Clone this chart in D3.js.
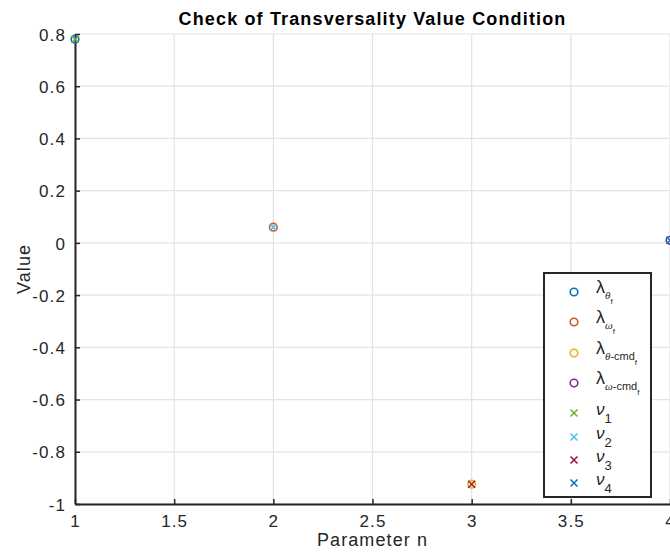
<!DOCTYPE html>
<html>
<head>
<meta charset="utf-8">
<script src="https://cdn.jsdelivr.net/npm/d3@7"></script>
<style>
  html, body { margin: 0; padding: 0; background: #fff; overflow: hidden; }
  svg { display: block; }
  text { font-family: "Liberation Sans", Arial, Helvetica, sans-serif; fill: #262626; }
</style>
</head>
<body>
<svg id="chart" width="670" height="552"></svg>
<script>
// Parameter values along the x axis
const paramN = [1, 2, 3, 4];
// Lagrange multiplier end values (one per parameter n)
const lambdaValues = [0.78, 0.06, -0.924, 0.01];
// Constraint multiplier end values (one per parameter n)
const nuValues = [0.78, 0.06, -0.924, 0.01];

const xTicks = [1, 1.5, 2, 2.5, 3, 3.5, 4];
const yTicks = [-1, -0.8, -0.6, -0.4, -0.2, 0, 0.2, 0.4, 0.6, 0.8];

const lambdaColors = ["#0072BD", "#D95319", "#EDB120", "#7E2F8E"];
const nuColors = ["#77AC30", "#4DBEEE", "#A2142F", "#0072BD"];

// legend labels: [main symbol, subscript, sub-subscript]
const lambdaLabels = [["λ", "θ", "f"], ["λ", "ω", "f"], ["λ", "θ-cmd", "f"], ["λ", "ω-cmd", "f"]];
const nuLabels = [["ν", "1"], ["ν", "2"], ["ν", "3"], ["ν", "4"]];

const svg = d3.select("#chart");
const plotLeft = 75, plotRight = 670, plotTop = 34, plotBottom = 504;

const x = d3.scaleLinear().domain([1, 4]).range([plotLeft, plotRight]);
const y = d3.scaleLinear().domain([-1, 0.8]).range([plotBottom, plotTop]);

// grid
const grid = svg.append("g");
grid.selectAll("line.gx").data(xTicks).join("line").attr("class", "gx")
  .attr("x1", d => x(d)).attr("x2", d => x(d))
  .attr("y1", plotTop).attr("y2", plotBottom)
  .attr("stroke", "#e3e3e3").attr("stroke-width", 1.2);
grid.selectAll("line.gy").data(yTicks).join("line").attr("class", "gy")
  .attr("x1", plotLeft).attr("x2", plotRight)
  .attr("y1", d => y(d)).attr("y2", d => y(d))
  .attr("stroke", "#e3e3e3").attr("stroke-width", 1.2);

// axes (plain hyphen-minus for negative labels)
const fmt = d => String(+d.toFixed(2));
const xAxis = d3.axisBottom(x).tickValues(xTicks).tickFormat(fmt).tickSizeInner(-5).tickSizeOuter(0);
const yAxis = d3.axisLeft(y).tickValues(yTicks).tickFormat(fmt).tickSizeInner(-5).tickSizeOuter(0);

const gx = svg.append("g").attr("transform", `translate(0,${plotBottom})`).call(xAxis);
const gy = svg.append("g").attr("transform", `translate(${plotLeft},0)`).call(yAxis);
[gx, gy].forEach(g => {
  g.select(".domain").attr("stroke", "#262626").attr("stroke-width", 2);
  g.selectAll(".tick line").attr("stroke", "#262626").attr("stroke-width", 1.5);
  g.selectAll(".tick text")
    .attr("font-family", "Liberation Sans, Arial, sans-serif")
    .attr("font-size", 17).attr("letter-spacing", 1.1).attr("fill", "#262626");
});
gx.selectAll(".tick text").attr("y", 11).attr("dy", "0.71em");
gy.selectAll(".tick text").attr("x", -9).attr("dy", "0.36em");

// title & axis labels
svg.append("text").attr("x", (plotLeft + plotRight) / 2).attr("y", 25)
  .attr("text-anchor", "middle").attr("font-weight", "bold")
  .attr("font-size", 18).attr("letter-spacing", 1.15).style("fill", "#000")
  .text("Check of Transversality Value Condition");
svg.append("text").attr("x", (plotLeft + plotRight) / 2).attr("y", 546)
  .attr("text-anchor", "middle").attr("font-size", 18).attr("letter-spacing", 1.1)
  .text("Parameter n");
svg.append("text").attr("transform", `translate(30,${(plotTop + plotBottom) / 2}) rotate(-90)`)
  .attr("text-anchor", "middle").attr("font-size", 18).attr("letter-spacing", 1.1)
  .text("Value");

// markers
const marks = svg.append("g");
const xSize = 3.5;
function drawCircle(g, cx, cy, color) {
  g.append("circle").attr("cx", cx).attr("cy", cy).attr("r", 3.8)
    .attr("fill", "none").attr("stroke", color).attr("stroke-width", 1.6);
}
function drawCross(g, cx, cy, color) {
  g.append("path")
    .attr("d", `M${cx - xSize},${cy - xSize}L${cx + xSize},${cy + xSize}M${cx - xSize},${cy + xSize}L${cx + xSize},${cy - xSize}`)
    .attr("stroke", color).attr("stroke-width", 1.5).attr("fill", "none");
}
paramN.forEach((n, i) => drawCircle(marks, x(n), y(lambdaValues[i]), lambdaColors[i]));
paramN.forEach((n, i) => drawCross(marks, x(n), y(nuValues[i]), nuColors[i]));

// legend
const lg = svg.append("g");
lg.append("rect").attr("x", 544).attr("y", 273).attr("width", 107).attr("height", 224)
  .attr("fill", "#fff").attr("stroke", "#262626").attr("stroke-width", 2);
const lambdaRows = [292, 322, 353, 383];
const nuRows = [413, 437, 460, 483];
const mx = 574, tx = 596;

lambdaLabels.forEach((lab, i) => {
  const ry = lambdaRows[i];
  drawCircle(lg, mx, ry, lambdaColors[i]);
  const t = lg.append("text").attr("x", tx).attr("y", ry + 1)
    .attr("font-family", "Liberation Serif, Times New Roman, serif").attr("font-size", 18);
  t.append("tspan").text(lab[0]);
  t.append("tspan").attr("dy", 6).attr("font-size", 11)
    .attr("font-family", "Liberation Serif, serif")
    .attr("font-style", "italic").text(lab[1].slice(0, 1));
  if (lab[1].length > 1) {
    t.append("tspan").attr("font-size", 11)
      .attr("font-family", "Liberation Sans, Arial, sans-serif").text(lab[1].slice(1));
  }
  t.append("tspan").attr("dy", 5).attr("font-size", 8)
    .attr("font-family", "Liberation Sans, Arial, sans-serif").text(lab[2]);
});
nuLabels.forEach((lab, i) => {
  const ry = nuRows[i];
  drawCross(lg, mx, ry, nuColors[i]);
  const t = lg.append("text").attr("x", tx).attr("y", ry + 2)
    .attr("font-family", "Liberation Serif, Times New Roman, serif").attr("font-size", 17);
  t.append("tspan").attr("font-style", "italic").text(lab[0]);
  t.append("tspan").attr("dy", 8).attr("font-size", 13)
    .attr("font-family", "Liberation Sans, Arial, sans-serif").text(lab[1]);
});
</script>
</body>
</html>
